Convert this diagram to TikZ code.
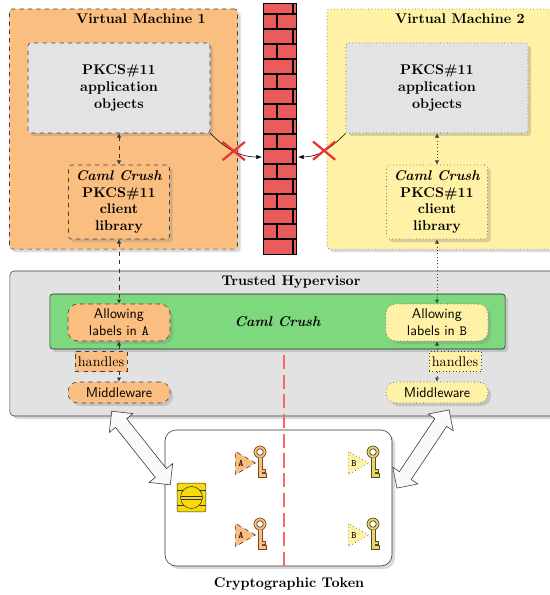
\documentclass[tikz,border=0pt]{standalone}
\usepackage{tikz}
\usetikzlibrary{shapes.geometric, shapes.misc, shapes.arrows, arrows.meta, positioning, shadows}

\definecolor{vmone}{RGB}{250,190,128}
\definecolor{vmtwo}{RGB}{255,241,165}
\definecolor{hvgray}{RGB}{226,226,226}
\definecolor{crushgreen}{RGB}{126,216,126}
\definecolor{brickred}{RGB}{234,92,92}
\definecolor{chipyellow}{RGB}{248,218,10}
\definecolor{keybrown}{RGB}{115,72,30}
\definecolor{keygold}{RGB}{234,212,112}
\definecolor{keyolive}{RGB}{85,75,25}
\definecolor{crossred}{RGB}{232,52,52}

\tikzset{
  pics/key/.style n args={2}{code={
    \draw[fill=#1, draw=#2, line width=0.5pt, even odd rule]
      (0,0) circle[radius=6] (0,0) circle[radius=3.3];
    \draw[fill=#1, draw=#2, line width=0.5pt]
      (-2,5.7) -- (-2,25) -- (6,25) -- (6,21.5) -- (2,21.5) -- (2,20.5)
      -- (5,20.5) -- (5,17) -- (2,17) -- (2,5.7);
  }}
}

\begin{document}
\begin{tikzpicture}[
    x=0.025cm, y=-0.025cm,
    >={Latex[length=3pt,width=3pt]},
    boxshadow/.style={drop shadow={opacity=0.3}},
    partA/.style={fill=vmone, dashed},
    partB/.style={fill=vmtwo, dotted},
    vmbox/.style={rectangle, rounded corners=2pt, draw=black!75, minimum width=5.7cm, minimum height=6cm, boxshadow},
    appbox/.style={rectangle, rounded corners=2pt, draw=black!75, minimum width=4.55cm, minimum height=2.25cm, font=\bfseries, align=center, boxshadow},
    libbox/.style={rectangle, rounded corners=2pt, draw=black!75, minimum width=2.525cm, minimum height=1.85cm, font=\bfseries, align=center, boxshadow},
    allowbox/.style={rectangle, rounded corners=7pt, draw=black!75, minimum width=2.55cm, minimum height=0.925cm, font=\sffamily, align=center, boxshadow},
    midbox/.style={rectangle, rounded corners=7pt, draw=black!75, minimum width=2.55cm, minimum height=0.525cm, font=\sffamily, boxshadow},
    hdlbox/.style={rectangle, draw=black!75, text=black, inner sep=2pt, minimum height=0.5cm},
    vmtitle/.style={font=\bfseries},
    linkA/.style={<->, dashed, black!80},
    linkB/.style={<->, dotted, black!75},
    xmark/.style={cross out, draw=crossred, line width=1.6pt, minimum width=0.5cm, minimum height=0.4cm, inner sep=0pt},
    brickline/.style={line width=1.1pt, black},
    tagbox/.style={isosceles triangle, isosceles triangle apex angle=60, draw=black!80, minimum height=0.5cm, minimum width=0.5cm, inner sep=0.5pt, font=\ttfamily\scriptsize},
    bigarrow/.style={double arrow, draw=black!80, fill=gray!4, minimum height=2.35cm, inner xsep=0pt, inner ysep=0.17cm, double arrow head extend=0.2cm}
]
\useasboundingbox (0,0) rectangle (549,595);

% the two guest machines
\node[vmbox, partA] (vmA) at (123.5,129) {};
\node[vmbox, partB, minimum width=5.75cm] (vmB) at (442,129) {};
\node[vmtitle] (vmAname) at (141,19) {Virtual Machine 1};
\node[vmtitle] (vmBname) at (460,19) {Virtual Machine 2};

\node[appbox, dashed, fill=gray!22] (appA) at (119,88) {PKCS\#11\\application\\objects};
\node[appbox, dotted, fill=gray!22] (appB) at (437,88) {PKCS\#11\\application\\objects};
\node[libbox, partA] (libA) at (119,202) {\textit{Caml Crush}\\PKCS\#11\\client\\library};
\node[libbox, partB] (libB) at (437,202) {\textit{Caml Crush}\\PKCS\#11\\client\\library};

% firewall
\node[rectangle, fill=brickred, minimum width=0.8cm, minimum height=6.25cm, inner sep=0pt] (wall) at (280,129) {};
\foreach \j in {1,...,16}
  \draw[brickline] (264,{14+15*(\j-1)}) -- (296,{14+15*(\j-1)});
\draw[brickline] (293,4) -- (293,14);
\foreach \j in {1,3,...,15}
  \draw[brickline] (277,{14+15*(\j-1)}) -- (277,{14+15*\j});
\foreach \j in {2,4,...,16}
  \draw[brickline] (293,{14+15*(\j-1)}) -- (293,{14+15*\j});
\draw[brickline] (wall.north west) rectangle (wall.south east);
\coordinate (hitA) at (262,157);
\coordinate (hitB) at (298,157);

% hypervisor
\node[rectangle, rounded corners=3pt, draw=black!75, fill=hvgray, minimum width=14.05cm, minimum height=3.625cm, boxshadow] (hyper) at (291,343.5) {};
\node[vmtitle] (hypername) at (291,282) {Trusted Hypervisor};
\node[rectangle, rounded corners=2pt, draw=black!85, fill=crushgreen, minimum width=11.375cm, minimum height=1.375cm, font=\bfseries\itshape, boxshadow] (crush) at (277.5,321.5) {Caml Crush};

\node[allowbox, partA] (allowA) at (119,322.5) {Allowing\\labels in \texttt{A}};
\node[allowbox, partB] (allowB) at (437,322.5) {Allowing\\labels in \texttt{B}};
\node[midbox, partA] (midA) at (119,392.5) {Middleware};
\node[midbox, partB] (midB) at (437,392.5) {Middleware};

% token
\node[rectangle, rounded corners=8pt, draw=black!80, fill=white, minimum width=5.675cm, minimum height=3.4cm, boxshadow] (token) at (278.5,498) {};
\node[vmtitle] (tokenname) at (289,584) {Cryptographic Token};

\node[rectangle, rounded corners=1pt, draw=black!80, fill=chipyellow, minimum size=0.72cm, inner sep=0pt] (chip) at (191.5,497.5) {};
\draw[black!80] (177,490) -- (206,490) (177,505) -- (206,505);
\draw[black!80, fill=chipyellow] (chip.center) circle[radius=11];
\draw[black!80] (181,496) -- (202,496) (181,499) -- (202,499);

\pic at (260,452) {key={vmone}{keybrown}};
\pic at (260,524) {key={vmone}{keybrown}};
\pic at (373,452) {key={keygold}{keyolive}};
\pic at (373,524) {key={keygold}{keyolive}};
\node[tagbox, partA, anchor=apex] (tagA1) at (256,463) {A};
\node[tagbox, partA, anchor=apex] (tagA2) at (256,535) {A};
\node[tagbox, partB, anchor=apex] (tagB1) at (369,463) {B};
\node[tagbox, partB, anchor=apex] (tagB2) at (369,535) {B};

% separation between the two label spaces
\coordinate (splitTop) at (284,355);
\coordinate (splitBot) at (284,566);
\draw[red!60, line width=1.8pt, dash pattern=on 10pt off 4pt] (splitTop) -- (splitBot);

\node[bigarrow, rotate=-51.5] (busA) at (141,448) {};
\node[bigarrow, rotate=56.3] (busB) at (423,449) {};

% links
\draw[linkA] (appA) -- (libA);
\draw[linkB] (appB) -- (libB);
\draw[linkA] (libA) -- (allowA);
\draw[linkB] (libB) -- (allowB);
\draw[linkA] (allowA) -- node[hdlbox, partA, xshift=-0.45cm] (hdlA) {handles} (midA);
\draw[linkB] (allowB) -- node[hdlbox, partB, xshift=0.45cm] (hdlB) {handles} (midB);

\draw[-{Latex[length=4pt]}] (appA.south east) to[out=-45, in=180] node[xmark, pos=0.5] (xA) {} (hitA);
\draw[-{Latex[length=4pt]}] (appB.south west) to[out=-135, in=0] node[xmark, pos=0.5] (xB) {} (hitB);
\end{tikzpicture}
\end{document}
